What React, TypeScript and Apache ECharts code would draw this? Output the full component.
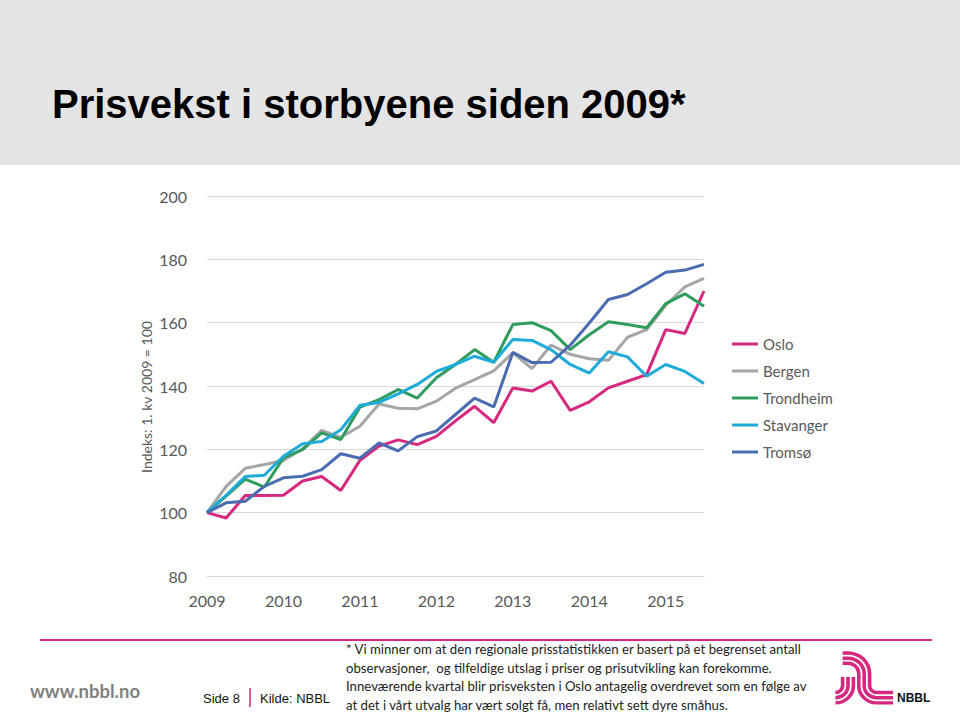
import React, { useEffect, useRef } from 'react';
import * as echarts from 'echarts';

// ---- Data ----
const years = [2009, 2010, 2011, 2012, 2013, 2014, 2015];
const quarterNames = ['1. kv', '2. kv', '3. kv', '4. kv'];
const categories = years.flatMap((y) => quarterNames.map((q) => `${q} ${y}`)).slice(0, 27);

const seriesNames = ['Oslo', 'Bergen', 'Trondheim', 'Stavanger', 'Tromsø'];
const seriesColors = ['#d6287e', '#a6a6a6', '#2e9c5c', '#1fabd9', '#4a6cb0'];

const oslo = [100, 98.3, 105.4, 105.4, 105.5, 110, 111.4, 107, 116.5, 121, 123, 121.5, 124.1, 129, 133.6, 128.4, 139.4, 138.4, 141.5, 132.3, 135, 139.4, 141.5, 143.6, 157.8, 156.6, 170];
const bergen = [100, 108.3, 114, 115.2, 116.5, 120.2, 126, 123.8, 127.3, 134.3, 133, 132.8, 135.2, 139.3, 142, 144.8, 150.5, 145.5, 152.9, 150, 148.6, 148.1, 155.4, 157.8, 165.5, 171.3, 174];
const trondheim = [100, 105.2, 110.6, 108.1, 117.3, 119.9, 125.2, 123.1, 133.3, 135.7, 138.9, 136.2, 142.6, 146.8, 151.5, 147.5, 159.4, 160, 157.5, 151.5, 156.2, 160.3, 159.4, 158.4, 166, 169.1, 165.2];
const stavanger = [100, 105.5, 111.4, 111.8, 117.8, 121.8, 122.5, 126.2, 133.9, 134.8, 137.5, 140.5, 144.6, 146.8, 149.4, 147.5, 154.7, 154.4, 151.5, 146.8, 144.1, 150.8, 149.2, 143.1, 146.8, 144.6, 140.8];
const tromso = [100, 103.1, 103.6, 108.3, 111, 111.5, 113.6, 118.6, 117.2, 122, 119.5, 124, 125.8, 131, 136.2, 133.4, 150.6, 147.4, 147.5, 152.9, 159.9, 167.3, 168.9, 172.3, 175.9, 176.6, 178.4];
const seriesValues = [oslo, bergen, trondheim, stavanger, tromso];

const yMin = 80;
const yMax = 200;
const yStep = 20;

const titleText = 'Prisvekst i storbyene siden 2009*';
const yAxisTitle = 'Indeks: 1. kv 2009 = 100';
const noteLines = [
  '* Vi minner om at den regionale prisstatistikken er basert på et begrenset antall',
  'observasjoner,  og tilfeldige utslag i priser og prisutvikling kan forekomme.',
  'Inneværende kvartal blir prisveksten i Oslo antagelig overdrevet som en følge av',
  'at det i vårt utvalg har vært solgt få, men relativt sett dyre småhus.',
];

const LOGO_D =
  'M4 12 L10 12 A12 12 0 0 1 22 24 L22 38 A20 20 0 0 0 42 58 L60 58 ' +
  'M4 6 L10 6 A18 18 0 0 1 28 24 L28 38 A14 14 0 0 0 42 52 L60 52 ' +
  'M4 0 L10 0 A24 24 0 0 1 34 24 L34 38 A8 8 0 0 0 42 46 L60 46 ' +
  'M4 28 L4 38 A8 8 0 0 1 -4 46 ' +
  'M10 28 L10 38 A14 14 0 0 1 -4 52 ' +
  'M16 28 L16 38 A20 20 0 0 1 -4 58';

echarts.graphic.registerShape('nbbllogo', echarts.graphic.extendPath(LOGO_D, {}));

const PINK = '#cf2a7f';
const LABEL_FONT = 'Lato, "Noto Sans", sans-serif';

export default function App() {
  const ref = useRef<HTMLDivElement>(null);

  useEffect(() => {
    if (!ref.current) return;
    const chart = echarts.init(ref.current, undefined, { renderer: 'svg' });

    const noteGraphics = noteLines.map((t, i) => ({
      type: 'text',
      x: 346,
      y: 649 + i * 18.7,
      style: {
        text: t,
        fill: '#222',
        font: `13.2px ${LABEL_FONT}`,
        align: 'left',
        verticalAlign: 'middle',
      },
    }));

    chart.setOption({
      animation: false,
      backgroundColor: '#ffffff',
      color: seriesColors,
      grid: { left: 207, right: 256, top: 196, bottom: 138 },
      legend: {
        orient: 'vertical',
        left: 727,
        top: 330,
        itemWidth: 26,
        itemHeight: 3,
        itemGap: 9,
        icon: 'rect',
        data: seriesNames,
        textStyle: { color: '#595959', fontSize: 15, fontFamily: LABEL_FONT, lineHeight: 18 },
      },
      xAxis: {
        type: 'category',
        boundaryGap: false,
        data: categories,
        axisLine: { lineStyle: { color: '#d9d9d9', width: 1 } },
        axisTick: { show: false },
        axisLabel: {
          interval: 3,
          formatter: (v: string) => v.slice(-4),
          color: '#595959',
          fontSize: 16,
          fontFamily: LABEL_FONT,
          margin: 16,
        },
        splitLine: { show: false },
      },
      yAxis: {
        type: 'value',
        min: yMin,
        max: yMax,
        interval: yStep,
        axisLine: { show: false },
        axisTick: { show: false },
        axisLabel: { color: '#595959', fontSize: 16, fontFamily: LABEL_FONT, margin: 20 },
        splitLine: { lineStyle: { color: '#d9d9d9', width: 1 } },
      },
      series: seriesNames.map((name, i) => ({
        name,
        type: 'line',
        data: seriesValues[i],
        symbol: 'none',
        showSymbol: false,
        lineStyle: { width: 3, color: seriesColors[i] },
        itemStyle: { color: seriesColors[i] },
      })),
      graphic: [
        {
          type: 'rect',
          z: -10,
          shape: { x: 0, y: 0, width: 960, height: 165 },
          style: { fill: '#e4e4e4' },
        },
        {
          type: 'text',
          x: 52,
          y: 104,
          style: {
            text: titleText,
            fill: '#000',
            font: 'bold 40px "Liberation Sans", Arial, sans-serif',
            align: 'left',
            verticalAlign: 'middle',
          },
        },
        {
          type: 'text',
          x: 146,
          y: 397,
          rotation: Math.PI / 2,
          style: {
            text: yAxisTitle,
            fill: '#595959',
            font: `14px ${LABEL_FONT}`,
            align: 'center',
            verticalAlign: 'middle',
          },
        },
        {
          type: 'line',
          shape: { x1: 40, y1: 640, x2: 932, y2: 640 },
          style: { stroke: PINK, lineWidth: 2 },
        },
        {
          type: 'text',
          x: 30,
          y: 691,
          style: {
            text: 'www.nbbl.no',
            fill: '#7f7f7f',
            font: `bold 18.5px ${LABEL_FONT}`,
            align: 'left',
            verticalAlign: 'middle',
          },
        },
        {
          type: 'text',
          x: 203,
          y: 698,
          style: {
            text: 'Side 8',
            fill: '#111',
            font: '13px "Liberation Sans", Arial, sans-serif',
            align: 'left',
            verticalAlign: 'middle',
          },
        },
        {
          type: 'line',
          shape: { x1: 250, y1: 688, x2: 250, y2: 707 },
          style: { stroke: PINK, lineWidth: 1.5 },
        },
        {
          type: 'text',
          x: 260,
          y: 698,
          style: {
            text: 'Kilde: NBBL',
            fill: '#111',
            font: '13px "Liberation Sans", Arial, sans-serif',
            align: 'left',
            verticalAlign: 'middle',
          },
        },
        ...noteGraphics,
        {
          type: 'nbbllogo',
          x: 839,
          y: 653,
          scaleX: 0.9,
          scaleY: 0.86,
          style: { fill: 'none', stroke: '#d6287e', lineWidth: 4 },
        },
        {
          type: 'text',
          x: 897,
          y: 698,
          style: {
            text: 'NBBL',
            fill: '#111',
            font: 'bold 12px "Liberation Sans", Arial, sans-serif',
            align: 'left',
            verticalAlign: 'middle',
          },
        },
      ],
    });

    return () => {
      chart.dispose();
    };
  }, []);

  return (
    <div
      ref={ref}
      style={{ position: 'fixed', left: 0, top: 0, width: 960, height: 714 }}
    />
  );
}
